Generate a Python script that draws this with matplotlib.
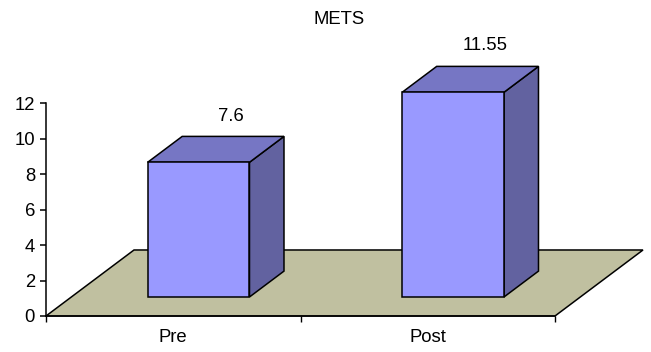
import matplotlib.pyplot as plt
from matplotlib.patches import Polygon

plt.rcParams['font.family'] = ['Liberation Sans', 'DejaVu Sans']

categorias = ['Pre', 'Post']
valores = [7.6, 11.55]
etiquetas = ['7.6', '11.55']
titulo = 'METS'

W, H = 651, 352
fs = 13.3
fig = plt.figure(figsize=(W / 100, H / 100), dpi=100)
# axes placed in pixels: x from 46 to 555, y from 316 (0) to 103 (12)
ax = fig.add_axes([46 / W, (H - 316) / H, (555 - 46) / W, (316 - 103.3) / H])
ax.set_xlim(0, 2)
ax.set_ylim(0, 12)

# oblique depth of the floor, in data units
D = 88 / 254.5
h = 66 / 17.72
f0, f1 = 0.288, 0.68   # front / back of the bars as fraction of depth

piso = Polygon([(0, 0), (2, 0), (2 + D, h), (D, h)], closed=True,
               facecolor='#C0C0A0', edgecolor='black', lw=1.1, clip_on=False, zorder=1)
ax.add_patch(piso)

ancho = 0.4
for i, v in enumerate(valores):
    c = i + 0.5
    x0 = c - ancho / 2 + f0 * D
    x1 = c + ancho / 2 + f0 * D
    y0 = f0 * h
    y1 = y0 + v
    ddx = (f1 - f0) * D
    ddy = (f1 - f0) * h
    lado = [(x1, y0), (x1 + ddx, y0 + ddy), (x1 + ddx, y1 + ddy), (x1, y1)]
    tapa = [(x0, y1), (x1, y1), (x1 + ddx, y1 + ddy), (x0 + ddx, y1 + ddy)]
    frente = [(x0, y0), (x1, y0), (x1, y1), (x0, y1)]
    for pts, col in [(lado, '#6262A0'), (tapa, '#7676C4'), (frente, '#9999FF')]:
        ax.add_patch(Polygon(pts, closed=True, facecolor=col, edgecolor='black',
                             lw=1.1, clip_on=False, zorder=2))
    ax.text(c + 0.225, y1 + ddy + 1.15, etiquetas[i], ha='center', va='center',
            fontsize=fs, clip_on=False)

ax.spines['top'].set_visible(False)
ax.spines['right'].set_visible(False)
ax.spines['left'].set_linewidth(1.1)
ax.spines['bottom'].set_linewidth(1.1)
ax.spines['bottom'].set_zorder(3)
ax.set_yticks(range(0, 13, 2))
ax.set_xticks([0, 1, 2])
ax.set_xticklabels([])
ax.set_xticks([0.5, 1.5], minor=True)
ax.set_xticklabels(categorias, minor=True)
ax.tick_params(axis='x', which='minor', length=0, labelsize=fs, pad=9.7)
ax.tick_params(axis='x', which='major', length=4.5, width=1)
ax.tick_params(axis='y', length=4.3, width=1.1, labelsize=fs, pad=3.6)
ax.patch.set_visible(False)

fig.text(339 / W, 1 - 19 / H, titulo, ha='center', va='center', fontsize=fs)

fig.savefig('out.png', dpi=100)
